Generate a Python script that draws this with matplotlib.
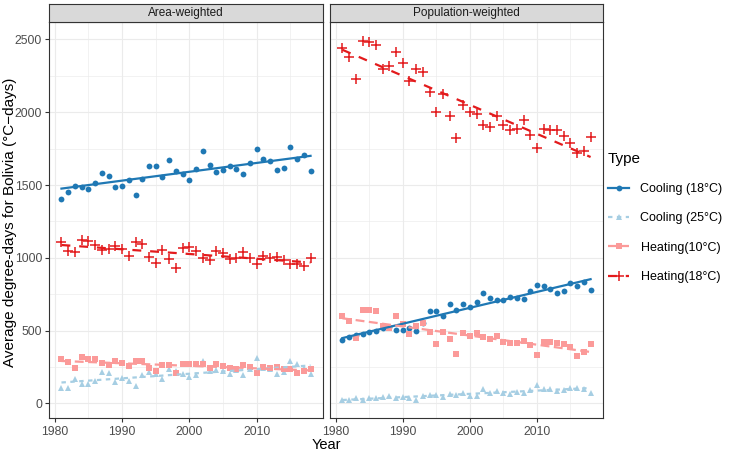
import numpy as np
import matplotlib.pyplot as plt
from matplotlib.lines import Line2D

plt.rcParams['font.family'] = ['Liberation Sans', 'DejaVu Sans']

years = np.arange(1981, 2019)
panels = ['Area-weighted', 'Population-weighted']
types = ['Cooling (18°C)', 'Cooling (25°C)', 'Heating(10°C)', 'Heating(18°C)']

# Area-weighted
area_cool18 = [1406, 1454, 1495, 1486, 1470, 1512, 1583, 1560, 1486, 1493,
               1532, 1429, 1541, 1629, 1631, 1553, 1670, 1597, 1578, 1537,
               1611, 1737, 1638, 1590, 1601, 1629, 1611, 1578, 1654, 1747,
               1680, 1668, 1606, 1620, 1760, 1680, 1705, 1594]
area_cool25 = [109, 107, 170, 136, 136, 152, 216, 209, 148, 175,
               155, 120, 193, 216, 205, 170, 239, 220, 205, 182,
               198, 289, 220, 227, 220, 205, 227, 193, 239, 311,
               243, 239, 200, 216, 291, 268, 243, 200]
area_heat10 = [302, 284, 245, 318, 307, 302, 280, 266, 291, 277,
               255, 293, 293, 243, 220, 261, 261, 211, 273, 273,
               270, 270, 243, 268, 259, 243, 234, 264, 252, 211,
               250, 243, 250, 234, 234, 211, 220, 239]
area_heat18 = [1109, 1050, 1039, 1120, 1114, 1091, 1057, 1061, 1084, 1064,
               1016, 1109, 1098, 1007, 966, 1052, 993, 932, 1070, 1075,
               1048, 1000, 982, 1050, 1034, 989, 1000, 1039, 1000, 961,
               1016, 1000, 1007, 984, 955, 955, 943, 1000]

# Population-weighted
pop_cool18 = [439, 459, 470, 477, 489, 495, 518, 523, 507, 507,
              518, 500, 555, 636, 636, 602, 686, 641, 682, 664,
              700, 757, 727, 711, 711, 732, 727, 720, 770, 811,
              807, 789, 757, 773, 830, 807, 836, 780]
pop_cool25 = [23, 23, 34, 27, 34, 34, 45, 50, 34, 41,
              34, 27, 50, 61, 61, 45, 68, 61, 73, 52,
              52, 96, 75, 84, 75, 68, 80, 73, 91, 125,
              98, 96, 86, 91, 109, 109, 102, 75]
pop_heat10 = [602, 568, 448, 641, 645, 636, 530, 520, 598, 545,
              480, 534, 552, 493, 407, 493, 443, 341, 482, 464,
              482, 455, 443, 464, 425, 416, 416, 432, 402, 334,
              420, 425, 416, 405, 391, 325, 352, 405]
pop_heat18 = [2444, 2378, 2230, 2487, 2480, 2462, 2300, 2320, 2412, 2340,
              2212, 2294, 2280, 2140, 2005, 2128, 1972, 1820, 2048, 2002,
              1990, 1915, 1900, 1975, 1915, 1877, 1888, 1950, 1843, 1752,
              1888, 1877, 1877, 1836, 1786, 1722, 1736, 1830]

data = {
    'Area-weighted': [area_cool18, area_cool25, area_heat10, area_heat18],
    'Population-weighted': [pop_cool18, pop_cool25, pop_heat10, pop_heat18],
}

colors = ['#1F78B4', '#A6CEE3', '#FB9A99', '#E31A1C']
markers = ['o', '^', 's', '+']
msizes = [4.2, 4.6, 4.2, 7]
dashes = ['-', (0, (2, 2)), (0, (4, 2)), (0, (4, 4))]

W, H = 731, 453
fig = plt.figure(figsize=(W / 100, H / 100), dpi=100)

boxes = [(49, 323), (330, 603)]
top, bottom, strip_top = 22, 418, 4

for (x0, x1), name in zip(boxes, panels):
    ax = fig.add_axes([x0 / W, 1 - bottom / H, (x1 - x0) / W, (bottom - top) / H])
    for k in range(4):
        y = np.array(data[name][k], dtype=float)
        ax.plot(years, y, linestyle='none', marker=markers[k], color=colors[k],
                markersize=msizes[k], markeredgewidth=1.1 if markers[k] == '+' else 0,
                zorder=3)
        b, a = np.polyfit(years, y, 1)
        ax.plot(years, a + b * years, color=colors[k], linestyle=dashes[k],
                linewidth=1.6, zorder=4)
    ax.set_xlim(1979.15, 2019.85)
    ax.set_ylim(-100, 2620)
    ax.set_xticks([1980, 1990, 2000, 2010])
    ax.set_xticks([1985, 1995, 2005, 2015], minor=True)
    ax.set_yticks([0, 500, 1000, 1500, 2000, 2500])
    ax.set_yticks([250, 750, 1250, 1750, 2250], minor=True)
    ax.grid(True, which='major', color='#EBEBEB', linewidth=0.8, zorder=0)
    ax.grid(True, which='minor', color='#EBEBEB', linewidth=0.45, zorder=0)
    ax.set_axisbelow(True)
    for s in ax.spines.values():
        s.set_color('#333333')
        s.set_linewidth(0.8)
    ax.tick_params(which='major', length=3, width=0.8, color='#333333',
                   labelsize=8.8, labelcolor='#4D4D4D', pad=2)
    ax.tick_params(axis='x', pad=2.5)
    ax.tick_params(which='minor', length=0)
    if name != panels[0]:
        ax.tick_params(axis='y', labelleft=False, length=0)
    # facet strip
    sax = fig.add_axes([x0 / W, 1 - top / H, (x1 - x0) / W, (top - strip_top) / H])
    sax.set_facecolor('#D9D9D9')
    sax.set_xticks([])
    sax.set_yticks([])
    for s in sax.spines.values():
        s.set_color('#333333')
        s.set_linewidth(0.8)
    sax.text(0.5, 0.5, name, ha='center', va='center', fontsize=8.5,
             color='#1A1A1A', transform=sax.transAxes)

fig.text(326 / W, 1 / H, 'Year', ha='center', va='bottom', fontsize=10.5)
fig.text(10 / W, 1 - 222 / H, 'Average degree-days for Bolivia (°C\u2212days)',
         rotation=90, ha='center', va='center', fontsize=11)

handles = []
for k in range(4):
    handles.append(Line2D([], [], color=colors[k], linestyle=dashes[k], linewidth=1.6,
                          marker=markers[k], markersize=msizes[k],
                          markeredgewidth=1.1 if markers[k] == '+' else 0))
leg = fig.legend(handles, types, loc='upper left', bbox_to_anchor=(603 / W, 1 - 147 / H),
                 title='Type', frameon=False, fontsize=9, title_fontsize=11,
                 handlelength=1.7, handletextpad=0.9, labelspacing=1.38,
                 borderaxespad=0)
leg._legend_box.align = 'left'

fig.savefig('out.png', dpi=100)
